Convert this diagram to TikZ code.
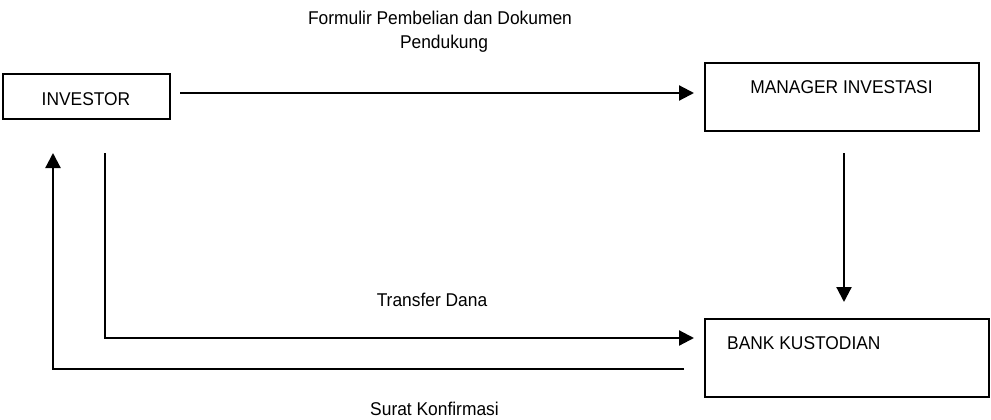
\documentclass[tikz,border=0pt]{standalone}
\usepackage{fontspec}
\setmainfont[FakeStretch=0.94]{Liberation Sans}
\usetikzlibrary{arrows.meta}
\begin{document}
\begin{tikzpicture}[x=1pt,y=-1pt,
  box/.style={draw=black, line width=1.8pt, inner sep=0pt, fill=white},
  txt/.style={font=\fontsize{18.5}{22}\selectfont, inner sep=0pt, anchor=base},
  conn/.style={line width=2pt},
  arr/.style={line width=2.2pt, -{Triangle[length=15pt,width=15pt]}}]
\useasboundingbox (0,0) rectangle (991,420);
% boxes
\node[box, minimum width=167pt, minimum height=45pt] (inv) at (86.5,96.5) {};
\node[box, minimum width=274pt, minimum height=68pt] (man) at (842,97) {};
\node[box, minimum width=284pt, minimum height=78pt] (bank) at (847,358) {};
% texts
\node[txt] (tinv) at (86,106) {INVESTOR};
\node[txt] (tman) at (841.5,93) {MANAGER INVESTASI};
\node[txt, anchor=base west] (tbank) at (727,349) {BANK KUSTODIAN};
\node[txt] (l1a) at (440,25) {Formulir Pembelian dan Dokumen};
\node[txt] (l1b) at (444,49) {Pendukung};
\node[txt] (l2) at (432,306) {Transfer Dana};
\node[txt] (l3) at (434.5,415) {Surat Konfirmasi};
% connector end points
\coordinate (c1s) at (180,93);
\coordinate (c1e) at (694,93);
\coordinate (c2s) at (844,153);
\coordinate (c2e) at (844,302);
\coordinate (c3s) at (105,153);
\coordinate (c3m) at (105,338);
\coordinate (c3e) at (694,338);
\coordinate (c4s) at (684,369);
\coordinate (c4m) at (53,369);
\coordinate (c4e) at (53,153);
% connectors
\draw[arr] (c1s) -- (c1e);
\draw[arr] (c2s) -- (c2e);
\draw[arr, line join=miter] (c3s) -- (c3m) -- (c3e);
\draw[arr, line join=miter] (c4s) -- (c4m) -- (c4e);
\end{tikzpicture}
\end{document}
